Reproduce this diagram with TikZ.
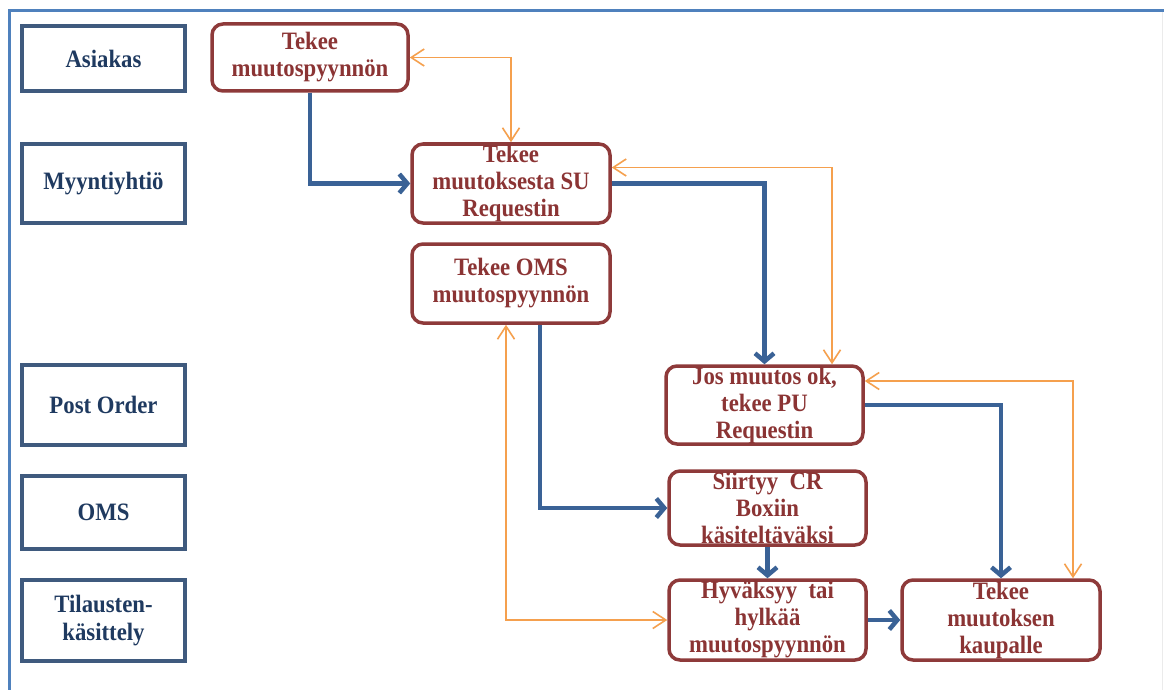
\documentclass[tikz,border=0pt]{standalone}
\usepackage{fontspec}
\setmainfont{Liberation Serif}[FakeStretch=0.91]
\usetikzlibrary{arrows.meta,calc}
\definecolor{frameblue}{HTML}{4F81BD}
\definecolor{laneborder}{HTML}{3F5A7E}
\definecolor{lanetext}{HTML}{1F3A60}
\definecolor{procborder}{HTML}{8E3A3A}
\definecolor{proctext}{HTML}{8B3434}
\definecolor{flowblue}{HTML}{3A6296}
\definecolor{infoorange}{HTML}{F5A04E}
\tikzset{
  lane/.style={draw=laneborder, line width=4pt, fill=white, minimum width=163pt,
    inner sep=0pt, align=center, text=lanetext,
    font=\bfseries\fontsize{25}{28}\selectfont},
  proc/.style={draw=procborder, line width=3.5pt, rounded corners=11pt, fill=white,
    inner sep=0pt, align=center, text=proctext,
    font=\bfseries\fontsize{25}{27}\selectfont},
  flow/.style={draw=flowblue, line width=4.5pt,
    -{Straight Barb[length=8pt,width=19pt,line width=4.5pt]}},
  info/.style={draw=infoorange, line width=1.6pt,
    {Straight Barb[length=13pt,width=17pt]}-{Straight Barb[length=13pt,width=17pt]}}
}
\begin{document}
\begin{tikzpicture}[x=1pt,y=-1pt]
\useasboundingbox (0,0) rectangle (1164,690);
\fill[white] (0,0) rectangle (1164,690);

% frame lines
\draw[frameblue, line width=3pt] (9,690) -- (9,11) -- (1164,11);
\draw[black!8, line width=1pt] (1162,12) -- (1162,690);

% swim-lane labels
\node[lane, minimum height=65pt] (lAsiakas) at (103.5,58.5) {Asiakas};
\node[lane, minimum height=79pt] (lMyynti) at (103.5,183.5) {Myyntiyhtiö};
\node[lane, minimum height=80pt] (lPost) at (103.5,405) {Post Order};
\node[lane, minimum height=73pt] (lOMS) at (103.5,512.5) {OMS};
\node[lane, minimum height=81pt] (lTilaus) at (103.5,620.5) {Tilausten-\\käsittely};

% process steps
\node[proc, minimum width=196pt, minimum height=67pt] (A) at (310,57.5) {Tekee\\muutospyynnön};
\node[proc, minimum width=198pt, minimum height=79pt] (B) at (511,183.5) {Tekee\\muutoksesta SU\\Requestin};
\node[proc, minimum width=198pt, minimum height=79pt] (C) at (511,283.5) {Tekee OMS\\muutospyynnön};
\node[proc, minimum width=197pt, minimum height=78pt] (D) at (764.5,405) {Jos muutos ok,\\tekee PU\\Requestin};
\node[proc, minimum width=197pt, minimum height=74pt] (E) at (767.5,508) {Siirtyy~ CR\\Boxiin\\käsiteltäväksi};
\node[proc, minimum width=197pt, minimum height=80pt] (F) at (767.5,620) {Hyväksyy~ tai\\hylkää\\muutospyynnön};
\node[proc, minimum width=198pt, minimum height=80pt] (G) at (1001,620) {Tekee\\muutoksen\\kaupalle};

% main flow
\draw[flow] (A.south) |- (B.west);
\draw[flow] (B.east) -| (D.north);
\draw[flow] ($(C.south)+(29,0)$) |- (E.west);
\draw[flow] (E.south) -- (F.north);
\draw[flow] (D.east) -| (G.north);
\draw[flow] (F.east) -- (G.west);

% information exchange
\draw[info] (A.east) -| (B.north);
\draw[info] ($(B.east)+(0,-16)$) -| ($(D.north)+(67.5,0)$);
\draw[info] ($(D.east)+(0,-24)$) -| ($(G.north)+(72,0)$);
\draw[info] ($(C.south)+(-5,0)$) |- (F.west);
\end{tikzpicture}
\end{document}
